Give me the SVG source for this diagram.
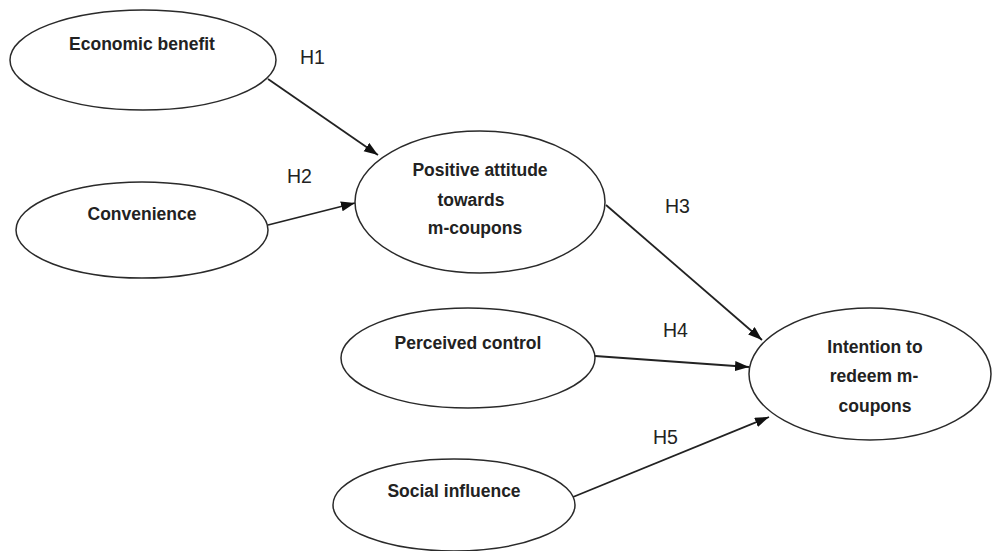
<svg xmlns="http://www.w3.org/2000/svg" width="995" height="551" viewBox="0 0 995 551">
<style>
.node ellipse{fill:#fff;stroke:#2a2a2a;stroke-width:1.5}
.node text{font-family:"Liberation Sans",Arial,sans-serif;font-weight:bold;font-size:17.5px;fill:#222;text-anchor:middle}
.lbl{font-family:"Liberation Sans",Arial,sans-serif;font-size:19.5px;fill:#222}
.edge{stroke:#222;stroke-width:1.8;fill:none;marker-end:url(#arr)}
</style>
<defs>
<marker id="arr" markerUnits="userSpaceOnUse" markerWidth="16" markerHeight="12" refX="14" refY="5" orient="auto">
<path d="M0,0 L14,5 L0,10 Z" fill="#111"/>
</marker>
</defs>
<rect width="995" height="551" fill="#fff"/>
<g id="connectors">
<line class="edge" x1="268" y1="79" x2="378" y2="155"/>
<line class="edge" x1="268" y1="225" x2="355" y2="203"/>
<line class="edge" x1="606" y1="205" x2="762" y2="340"/>
<line class="edge" x1="595" y1="356" x2="749" y2="367"/>
<line class="edge" x1="573" y1="497" x2="769" y2="417"/>
<text class="lbl" x="300" y="64">H1</text>
<text class="lbl" x="287" y="183">H2</text>
<text class="lbl" x="665" y="213">H3</text>
<text class="lbl" x="663" y="337">H4</text>
<text class="lbl" x="653" y="444">H5</text>
</g>
<g id="economic" class="node">
<ellipse cx="143" cy="60" rx="133" ry="50"/>
<text x="142" y="50">Economic benefit</text>
</g>
<g id="convenience" class="node">
<ellipse cx="142" cy="230" rx="126" ry="48"/>
<text x="142" y="220">Convenience</text>
</g>
<g id="attitude" class="node">
<ellipse cx="480" cy="202" rx="125" ry="71"/>
<text x="480" y="176">Positive attitude</text>
<text x="471" y="206">towards</text>
<text x="475" y="234">m-coupons</text>
</g>
<g id="control" class="node">
<ellipse cx="468" cy="358" rx="127" ry="50"/>
<text x="468" y="349">Perceived control</text>
</g>
<g id="intention" class="node">
<ellipse cx="870" cy="374" rx="121" ry="66"/>
<text x="875" y="353">Intention to</text>
<text x="874" y="382">redeem m-</text>
<text x="875" y="412">coupons</text>
</g>
<g id="social" class="node">
<ellipse cx="454" cy="505" rx="121" ry="46"/>
<text x="454" y="497">Social influence</text>
</g>
</svg>
